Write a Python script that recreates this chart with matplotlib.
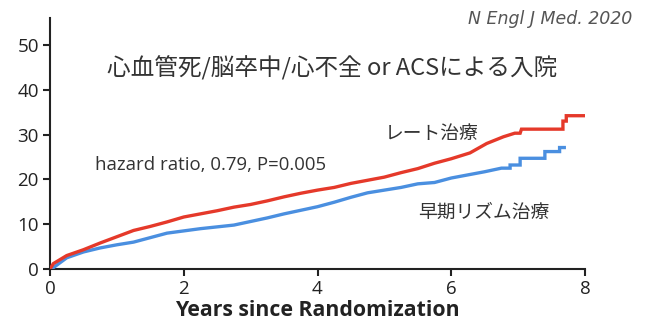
import matplotlib
matplotlib.use("Agg")
import matplotlib.pyplot as plt

# Rate control (red)
rate_t = [0, 0.05, 0.25, 0.5, 0.75, 1.0, 1.25, 1.5, 1.75, 2.0, 2.25, 2.5, 2.75, 3.0,
          3.25, 3.5, 3.75, 4.0, 4.25, 4.5, 4.75, 5.0, 5.25, 5.5, 5.75, 6.0, 6.28,
          6.53, 6.78, 6.95, 7.03, 7.05, 7.67, 7.67, 7.72, 7.72, 8.07]
rate_y = [0, 1.2, 3.0, 4.3, 5.8, 7.2, 8.6, 9.5, 10.5, 11.6, 12.3, 13.0, 13.8, 14.4,
          15.2, 16.1, 16.9, 17.6, 18.2, 19.1, 19.8, 20.5, 21.5, 22.4, 23.6, 24.6, 25.9,
          28.0, 29.5, 30.3, 30.3, 31.2, 31.2, 33.0, 33.0, 34.2, 34.2]

# Early rhythm control (blue)
rhythm_t = [0, 0.05, 0.25, 0.5, 0.75, 1.0, 1.25, 1.5, 1.75, 2.0, 2.25, 2.5, 2.75, 3.0,
            3.25, 3.5, 3.75, 4.0, 4.25, 4.5, 4.75, 5.0, 5.25, 5.5, 5.75, 6.0, 6.25,
            6.5, 6.75, 6.88, 6.88, 7.03, 7.03, 7.4, 7.4, 7.62, 7.62, 7.69]
rhythm_y = [0, 0.3, 2.5, 3.8, 4.7, 5.4, 6.0, 7.0, 8.0, 8.5, 9.0, 9.4, 9.8, 10.6,
            11.4, 12.3, 13.1, 13.9, 14.9, 16.0, 17.0, 17.6, 18.2, 19.0, 19.3, 20.3, 21.0,
            21.7, 22.5, 22.5, 23.2, 23.2, 24.7, 24.7, 26.2, 26.2, 27.1, 27.1]

x_ticks = [0, 2, 4, 6, 8]
y_ticks = [0, 10, 20, 30, 40, 50]

jp = ['Noto Sans CJK JP', 'DejaVu Sans']
txt = '#333333'

fig = plt.figure(figsize=(6.46, 3.35), dpi=100)
ax = fig.add_axes([50/646, 1-269/335, 535/646, 251/335])

ax.plot(rhythm_t, rhythm_y, color='#4a8fe0', lw=2.4, zorder=3, solid_joinstyle='miter')
ax.plot(rate_t, rate_y, color='#e5392a', lw=2.4, zorder=4, solid_joinstyle='miter')

ax.set_xlim(0, 8)
ax.set_ylim(0, 56)
ax.set_xticks(x_ticks)
ax.set_yticks(y_ticks)
for s in ['top', 'right']:
    ax.spines[s].set_visible(False)
for s in ['left', 'bottom']:
    ax.spines[s].set_linewidth(1.5)
    ax.spines[s].set_color('#222222')
ax.spines['bottom'].set_bounds(0, 8)
ax.tick_params(axis='both', direction='out', length=5, width=1.5, color='#222222',
               labelsize=13.5, labelcolor='#222222', pad=3)
for lab in ax.get_xticklabels() + ax.get_yticklabels():
    lab.set_family('Open Sans')
ax.set_xlabel('Years since Randomization', fontsize=15.3, fontweight='bold',
              family='Open Sans', color='#222222', labelpad=1)

fig.text(632/646, 1-19/335, 'N Engl J Med. 2020', ha='right', va='center',
         fontsize=12.5, style='italic', family='DejaVu Sans', color='#555555')
fig.text(332/646, 1-68/335, '心血管死/脳卒中/心不全 or ACSによる入院', ha='center', va='center',
         fontsize=17, family=jp, color=txt)
fig.text(95/646, 1-165/335, 'hazard ratio, 0.79, P=0.005', ha='left', va='center',
         fontsize=13.4, family='Open Sans', color=txt)
fig.text(385/646, 1-134/335, 'レート治療', ha='left', va='center',
         fontsize=13.5, family=jp, color=txt)
fig.text(418/646, 1-212/335, '早期リズム治療', ha='left', va='center',
         fontsize=13.5, family=jp, color=txt)

fig.savefig('out.png', dpi=100)
